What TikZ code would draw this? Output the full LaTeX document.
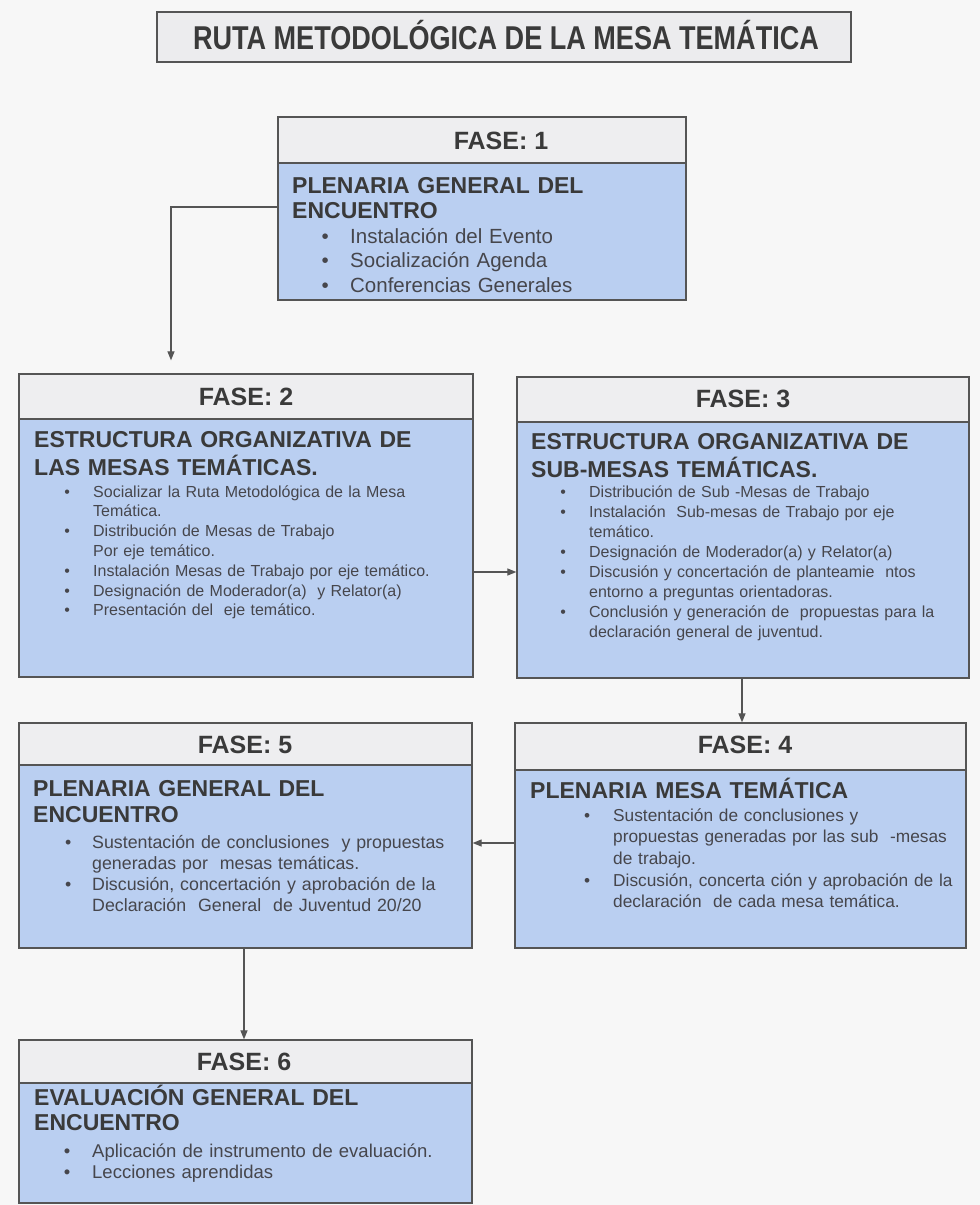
\documentclass[tikz,border=0pt]{standalone}
\usepackage{fontspec}
\setmainfont{Liberation Sans}
\newfontfamily\titlefont[FakeStretch=0.82]{Liberation Sans}
\usetikzlibrary{arrows.meta}
\definecolor{bg}{RGB}{247,247,247}
\definecolor{hdr}{RGB}{238,238,240}
\definecolor{titlefill}{RGB}{236,236,238}
\definecolor{bodyblue}{RGB}{186,207,241}
\definecolor{edge}{RGB}{85,85,85}
\definecolor{ink}{RGB}{58,58,58}
\definecolor{ink2}{RGB}{70,70,76}
\newcommand\bul[1]{\leavevmode\llap{\makebox[0pt]{\textbullet}\hspace{#1pt}}}
\begin{document}
\begin{tikzpicture}[x=1pt,y=-1pt,
  box/.style={draw=edge,line width=1.3pt,inner sep=0pt},
  hdrbox/.style={box,fill=hdr},
  bluebox/.style={box,fill=bodyblue},
  fase/.style={font=\fontsize{25}{30}\selectfont\bfseries,text=ink,inner sep=0pt,anchor=base},
  head/.style={font=\fontsize{23}{27}\selectfont\bfseries,text=ink,inner sep=0pt,anchor=base west,text width=430pt,align=left},
  items/.style={text=ink2,inner sep=0pt,anchor=base west,text width=400pt,align=left},
  conn/.style={draw=edge,line width=1.2pt,-{Triangle[length=9pt,width=7pt]}},
]
\fill[bg] (0,0) rectangle (980,1205);
\useasboundingbox (0,0) rectangle (980,1205);

% title
\node[box,fill=titlefill,minimum width=694pt,minimum height=50pt] (title) at (504,37) {};
\node[inner sep=0pt,anchor=base,text=ink,font=\titlefont\fontsize{33}{36}\selectfont\bfseries] (titletext) at (506,49) {RUTA METODOLÓGICA DE LA MESA TEMÁTICA};

% FASE 1
\node[hdrbox,minimum width=408pt,minimum height=46pt] (f1h) at (482,140) {};
\node[bluebox,minimum width=408pt,minimum height=137pt] (f1b) at (482,231.5) {};
\node[fase] (f1t) at (501,149) {FASE: 1};
\node[head,font=\fontsize{23}{25}\selectfont\bfseries] (f1hd) at (292,193) {PLENARIA GENERAL DEL\\ENCUENTRO};
\node[items,font=\fontsize{20.5}{24.5}\selectfont] (f1i) at (350,243) {\bul{25}Instalación del Evento\\\bul{25}Socialización Agenda\\\bul{25}Conferencias Generales};

% FASE 2
\node[hdrbox,minimum width=454pt,minimum height=45pt] (f2h) at (246,396.5) {};
\node[bluebox,minimum width=454pt,minimum height=258pt] (f2b) at (246,548) {};
\node[fase] (f2t) at (246,405) {FASE: 2};
\node[head,font=\fontsize{23}{28}\selectfont\bfseries] (f2hd) at (34,447) {ESTRUCTURA ORGANIZATIVA DE\\LAS MESAS TEMÁTICAS.};
\node[items,font=\fontsize{16}{19.8}\selectfont] (f2i) at (93,497) {\bul{26}Socializar la Ruta Metodológica de la Mesa\\Temática.\\\bul{26}Distribución de Mesas de Trabajo\\Por eje temático.\\\bul{26}Instalación Mesas de Trabajo por eje temático.\\\bul{26}Designación de Moderador(a)\ \ y Relator(a)\\\bul{26}Presentación del\ \ eje temático.};

% FASE 3
\node[hdrbox,minimum width=452pt,minimum height=45pt] (f3h) at (743,399.5) {};
\node[bluebox,minimum width=452pt,minimum height=256pt] (f3b) at (743,550) {};
\node[fase] (f3t) at (743,407) {FASE: 3};
\node[head,font=\fontsize{23}{28}\selectfont\bfseries] (f3hd) at (531,449) {ESTRUCTURA ORGANIZATIVA DE\\SUB-MESAS TEMÁTICAS.};
\node[items,font=\fontsize{16}{20.1}\selectfont] (f3i) at (589,497) {\bul{26}Distribución de Sub -Mesas de Trabajo\\\bul{26}Instalación\ \ Sub-mesas de Trabajo por eje\\temático.\\\bul{26}Designación de Moderador(a) y Relator(a)\\\bul{26}Discusión y concertación de planteamie\ \ ntos\\entorno a preguntas orientadoras.\\\bul{26}Conclusión y generación de\ \ propuestas para la\\declaración general de juventud.};

% FASE 4
\node[hdrbox,minimum width=451pt,minimum height=47pt] (f4h) at (740.5,746.5) {};
\node[bluebox,minimum width=451pt,minimum height=178pt] (f4b) at (740.5,859) {};
\node[fase] (f4t) at (745,753) {FASE: 4};
\node[head] (f4hd) at (530,798) {PLENARIA MESA TEMÁTICA};
\node[items,font=\fontsize{17.3}{21.7}\selectfont] (f4i) at (613,821) {\bul{26}Sustentación de conclusiones y\\propuestas generadas por las sub\ \ -mesas\\de trabajo.\\\bul{26}Discusión, concerta ción y aprobación de la\\declaración\ \ de cada mesa temática.};

% FASE 5
\node[hdrbox,minimum width=453pt,minimum height=42pt] (f5h) at (245.5,744) {};
\node[bluebox,minimum width=453pt,minimum height=183pt] (f5b) at (245.5,856.5) {};
\node[fase] (f5t) at (245,753) {FASE: 5};
\node[head,font=\fontsize{23}{26}\selectfont\bfseries] (f5hd) at (33,796) {PLENARIA GENERAL DEL\\ENCUENTRO};
\node[items,font=\fontsize{17.8}{21}\selectfont] (f5i) at (92,848) {\bul{24}Sustentación de conclusiones\ \ y propuestas\\generadas por\ \ mesas temáticas.\\\bul{24}Discusión, concertación y aprobación de la\\Declaración\ \ General\ \ de Juventud 20/20};

% FASE 6
\node[hdrbox,minimum width=453pt,minimum height=43pt] (f6h) at (245.5,1061.5) {};
\node[bluebox,minimum width=453pt,minimum height=120pt] (f6b) at (245.5,1143) {};
\node[fase] (f6t) at (244,1070) {FASE: 6};
\node[head,font=\fontsize{23}{25}\selectfont\bfseries] (f6hd) at (34,1105) {EVALUACIÓN GENERAL DEL\\ENCUENTRO};
\node[items,font=\fontsize{18.5}{21}\selectfont] (f6i) at (92,1157) {\bul{25}Aplicación de instrumento de evaluación.\\\bul{25}Lecciones aprendidas};

% connectors
\coordinate (k12) at (171,207);
\draw[conn,shorten >=13pt] (f1b.west |- k12) -- (k12) -- (k12 |- f2h.north);
\coordinate (k23) at (495,572);
\draw[conn] (f2b.east |- k23) -- (f3b.west |- k23);
\coordinate (k34) at (742,700);
\draw[conn] (f3b.south -| k34) -- (f4h.north -| k34);
\coordinate (k45) at (495,843);
\draw[conn] (f4b.west |- k45) -- (f5b.east |- k45);
\coordinate (k56) at (244,990);
\draw[conn] (f5b.south -| k56) -- (f6h.north -| k56);
\end{tikzpicture}
\end{document}
